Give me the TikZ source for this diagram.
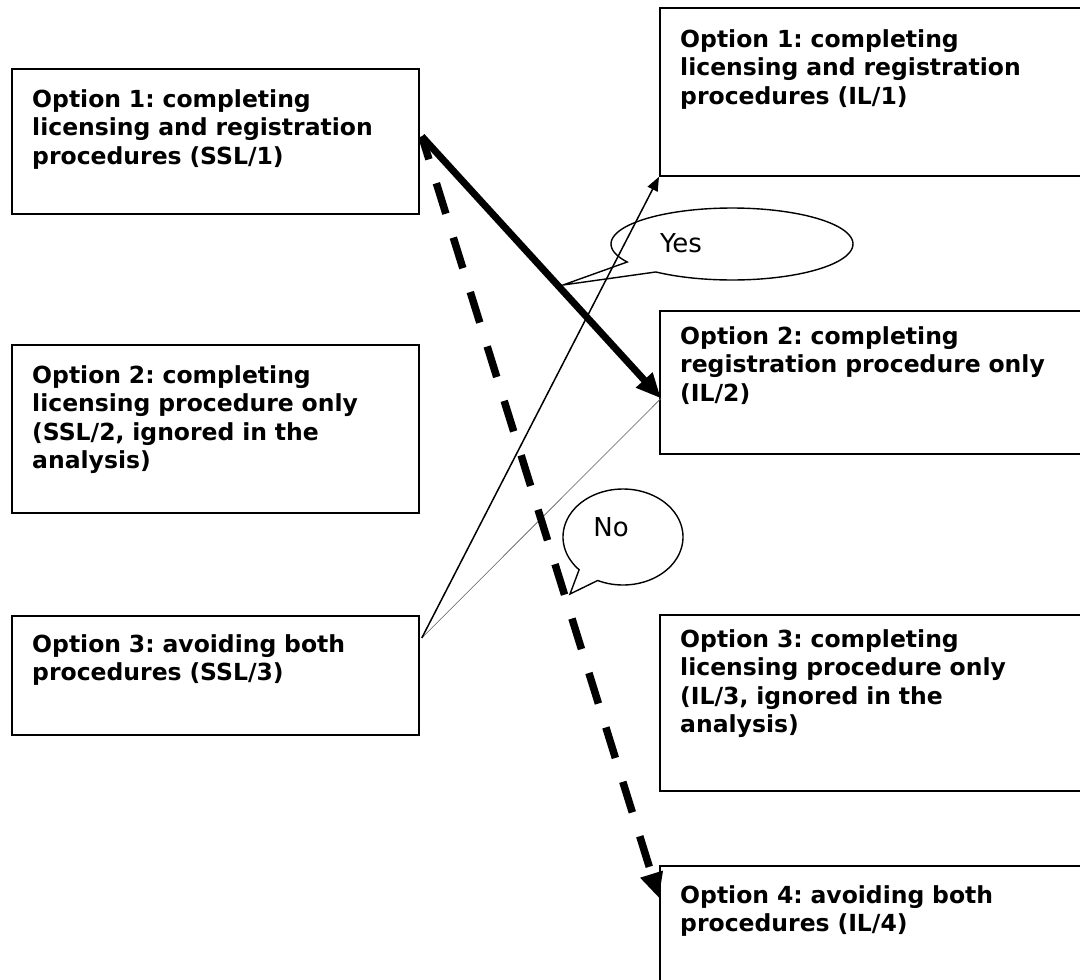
\documentclass[tikz,border=0pt]{standalone}
\usepackage{fontspec}
\setmainfont{DejaVu Sans}
\usetikzlibrary{arrows.meta,calc}
\begin{document}
\frenchspacing
\begin{tikzpicture}[x=1pt,y=-1pt,
  box/.style={draw, line width=1.8pt, rectangle, inner sep=0pt, anchor=north west},
  txt/.style={anchor=base west, inner sep=0pt, text width=430pt, align=left, font=\fontsize{23.5}{28.5}\selectfont\bfseries\frenchspacing},
  lbl/.style={inner sep=0pt, font=\fontsize{26}{30}\selectfont},
  thickarrow/.style={line width=7pt, -{Triangle[length=25pt,width=21pt]}},
  dasharrow/.style={line width=7.5pt, dash pattern=on 32pt off 25pt, dash phase=8pt, -{Triangle[length=25pt,width=22pt]}},
  thinarrow/.style={line width=1.5pt, -{Triangle[length=14pt,width=11pt]}},
  hair/.style={line width=0.6pt, black!65},
  callout/.style={line width=1.4pt},
]
\useasboundingbox (0,0) rectangle (1080,980);
\clip (0,0) rectangle (1080,980);

% left boxes
\node[box, minimum width=407pt, minimum height=145pt] (L1) at (11,68) {};
\node[box, minimum width=407pt, minimum height=168pt] (L2) at (11,344) {};
\node[box, minimum width=407pt, minimum height=119pt] (L3) at (11,615) {};
% right boxes
\node[box, minimum width=440pt, minimum height=168pt] (R1) at (659,7) {};
\node[box, minimum width=440pt, minimum height=143pt] (R2) at (659,310) {};
\node[box, minimum width=440pt, minimum height=176pt] (R3) at (659,614) {};
\node[box, minimum width=440pt, minimum height=135pt] (R4) at (659,865) {};

% texts
\node[txt] (tL1) at ($(L1.north west)+(21,39)$) {Option 1: completing\\licensing and registration\\procedures (SSL/1)};
\node[txt] (tL2) at ($(L2.north west)+(21,39)$) {Option 2: completing\\licensing procedure only\\(SSL/2, ignored in the\\analysis)};
\node[txt] (tL3) at ($(L3.north west)+(21,37)$) {Option 3: avoiding both\\procedures (SSL/3)};
\node[txt] (tR1) at ($(R1.north west)+(21,40)$) {Option 1: completing\\licensing and registration\\procedures (IL/1)};
\node[txt] (tR2) at ($(R2.north west)+(21,34)$) {Option 2: completing\\registration procedure only\\(IL/2)};
\node[txt] (tR3) at ($(R3.north west)+(21,33)$) {Option 3: completing\\licensing procedure only\\(IL/3, ignored in the\\analysis)};
\node[txt] (tR4) at ($(R4.north west)+(21,38)$) {Option 4: avoiding both\\procedures (IL/4)};

% connection points
\coordinate (a1) at ($(L1.east)+(2,-5)$);
\coordinate (a3) at ($(L3.north east)+(2,23)$);
\coordinate (b2) at ($(R2.west)+(2,16)$);
\coordinate (b4) at ($(R4.north west)+(0,33)$);

% connectors
\draw[hair] (a3) -- (b2);
\draw[thinarrow] (a3) -- (R1.south west);
\draw[dasharrow] (a1) -- (b4);
\draw[thickarrow] (a1) -- (b2);

% callouts
\coordinate (ytip) at (563,285);
\draw[callout] plot[domain=129:-210, samples=100, variable=\t] ({732+121*cos(\t)},{244+36*sin(\t)}) -- (ytip) -- cycle;
\node[lbl] (yes) at (681,243) {Yes};
\coordinate (ntip) at (570,594);
\draw[callout] plot[domain=115:-223, samples=100, variable=\t] ({623+60*cos(\t)},{537+48*sin(\t)}) -- (ntip) -- cycle;
\node[lbl] (no) at (611,527) {No};
\end{tikzpicture}
\end{document}
